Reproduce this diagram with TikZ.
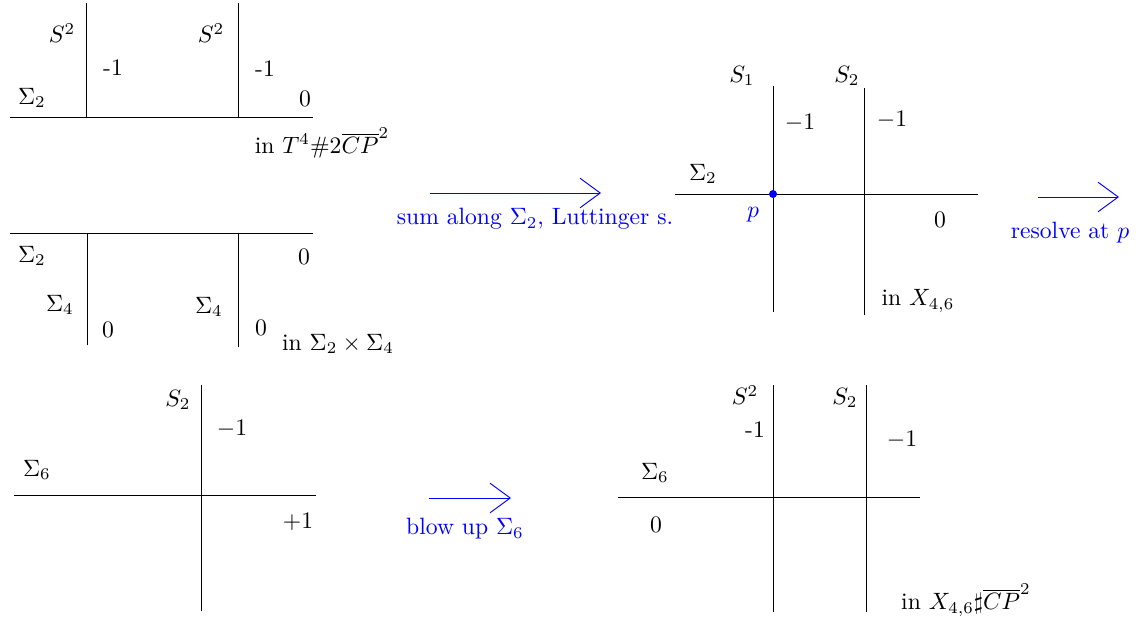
\documentclass[tikz,border=0pt]{standalone}
\usepackage{amssymb}
\usetikzlibrary{arrows.meta}
\tikzset{
  curve/.style={draw=black, line width=0.4pt},
  morph/.style={draw=blue, line width=0.4pt,
    -{Straight Barb[length=3mm,width=4.4mm,line width=0.4pt]}},
  lbl/.style={inner sep=0pt},
  note/.style={inner sep=0pt, text=blue},
  dot/.style={circle, fill=blue, inner sep=0pt, minimum size=3.4pt}
}

\begin{document}
\begin{tikzpicture}[x=0.01487cm,y=-0.01487cm]
    \useasboundingbox (0,0) rectangle (1144,618);

    % panel: T^4 # 2 CP^2
    \coordinate (h1w) at (10,117);  \coordinate (h1e) at (313,117);
    \coordinate (a1n) at (86,3);    \coordinate (a1s) at (86,117);
    \coordinate (b1n) at (238,3);   \coordinate (b1s) at (238,117);
    \draw[curve] (h1w) -- (h1e);
    \draw[curve] (a1n) -- (a1s);
    \draw[curve] (b1n) -- (b1s);
    \node[lbl] (s2a) at (62,33) {$S^2$};
    \node[lbl] (s2b) at (211,33) {$S^2$};
    \node[lbl] (m1a) at (113,68) {-1};
    \node[lbl] (m1b) at (265,69) {-1};
    \node[lbl] (sg2a) at (32,98) {$\Sigma_2$};
    \node[lbl] (z1) at (305,99) {0};
    \node[lbl] (in1) at (322,143) {in $T^4\#2\overline{CP}^2$};

    % panel: Sigma_2 x Sigma_4
    \coordinate (h2w) at (10,233);  \coordinate (h2e) at (313,233);
    \coordinate (a2n) at (87,233);  \coordinate (a2s) at (87,345);
    \coordinate (b2n) at (238,233); \coordinate (b2s) at (238,347);
    \draw[curve] (h2w) -- (h2e);
    \draw[curve] (a2n) -- (a2s);
    \draw[curve] (b2n) -- (b2s);
    \node[lbl] (sg2b) at (32,256) {$\Sigma_2$};
    \node[lbl] (z2) at (304,257) {0};
    \node[lbl] (sg4a) at (60,305) {$\Sigma_4$};
    \node[lbl] (sg4b) at (209,307) {$\Sigma_4$};
    \node[lbl] (z3) at (108,330) {0};
    \node[lbl] (z4) at (261,328) {0};
    \node[lbl] (in2) at (338,344) {in $\Sigma_2\times\Sigma_4$};

    % first move
    \coordinate (f1s) at (430,193); \coordinate (f1t) at (601,193);
    \draw[morph] (f1s) -- (f1t);
    \node[note] (f1l) at (535,219) {sum along $\Sigma_2$, Luttinger s.};

    % panel: X_{4,6}
    \coordinate (h3w) at (675,194); \coordinate (h3e) at (978,194);
    \coordinate (a3n) at (773,86);  \coordinate (a3s) at (773,312);
    \coordinate (b3n) at (864,88);  \coordinate (b3s) at (864,315);
    \draw[curve] (h3w) -- (h3e);
    \draw[curve] (a3n) -- (a3s);
    \draw[curve] (b3n) -- (b3s);
    \node[dot] (p) at (773,194) {};
    \node[lbl] (s1) at (742,76) {$S_1$};
    \node[lbl] (s2c) at (847,76) {$S_2$};
    \node[lbl] (m1c) at (800,123) {$-1$};
    \node[lbl] (m1d) at (892,120) {$-1$};
    \node[lbl] (sg2c) at (703,174) {$\Sigma_2$};
    \node[note] (pl) at (753,215) {$p$};
    \node[lbl] (z5) at (940,220) {0};
    \node[lbl] (in3) at (918,301) {in $X_{4,6}$};

    % second move
    \coordinate (f2s) at (1038,197); \coordinate (f2t) at (1119,197);
    \draw[morph] (f2s) -- (f2t);
    \node[note] (f2l) at (1070,233) {resolve at $p$};

    % panel: after resolving
    \coordinate (h4w) at (14,495);  \coordinate (h4e) at (316,495);
    \coordinate (a4n) at (201,385); \coordinate (a4s) at (201,611);
    \draw[curve] (h4w) -- (h4e);
    \draw[curve] (a4n) -- (a4s);
    \node[lbl] (s2d) at (178,400) {$S_2$};
    \node[lbl] (m1e) at (232,429) {$-1$};
    \node[lbl] (sg6a) at (37,470) {$\Sigma_6$};
    \node[lbl] (p1) at (298,522) {$+1$};

    % third move
    \coordinate (f3s) at (429,498); \coordinate (f3t) at (511,498);
    \draw[morph] (f3s) -- (f3t);
    \node[note] (f3l) at (465,529) {blow up $\Sigma_6$};

    % panel: X_{4,6} # CP^2
    \coordinate (h5w) at (618,497); \coordinate (h5e) at (920,497);
    \coordinate (a5n) at (773,385); \coordinate (a5s) at (773,612);
    \coordinate (b5n) at (866,385); \coordinate (b5s) at (866,612);
    \draw[curve] (h5w) -- (h5e);
    \draw[curve] (a5n) -- (a5s);
    \draw[curve] (b5n) -- (b5s);
    \node[lbl] (s2e) at (745,395) {$S^2$};
    \node[lbl] (s2f) at (845,398) {$S_2$};
    \node[lbl] (m1f) at (755,430) {-1};
    \node[lbl] (m1g) at (902,440) {$-1$};
    \node[lbl] (sg6b) at (655,473) {$\Sigma_6$};
    \node[lbl] (z6) at (656,525) {0};
    \node[lbl] (in4) at (966,600) {in $X_{4,6}\sharp\overline{CP}^2$};
\end{tikzpicture}
\end{document}
